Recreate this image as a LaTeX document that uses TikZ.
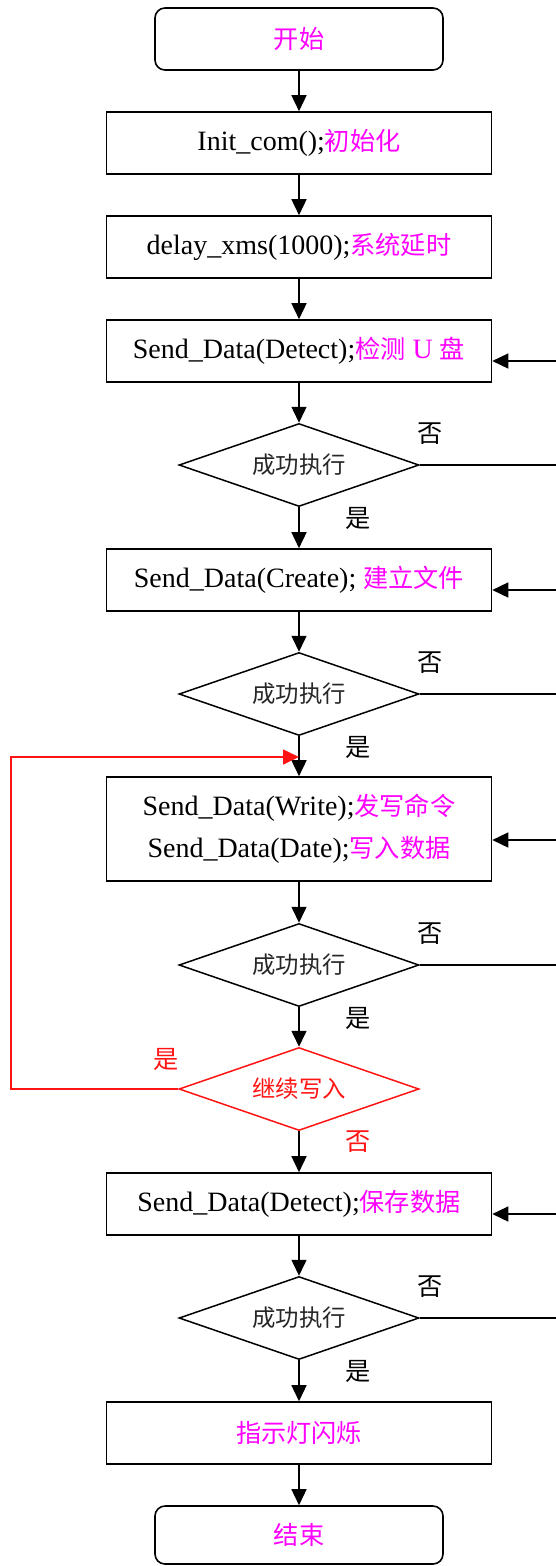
\documentclass[tikz,border=0pt]{standalone}
\usepackage{fontspec}
\usepackage{xcolor}
\usepackage{tikz}
\usetikzlibrary{shapes.geometric,arrows.meta}
\setmainfont{Liberation Serif}
\newfontfamily\cjk[Scale=0.9]{Noto Sans CJK SC}

\definecolor{hl}{RGB}{255,0,255}
\definecolor{loopred}{RGB}{255,20,20}
\newcommand{\zh}[1]{{\cjk\color{hl}#1}}

\begin{document}
\begin{tikzpicture}[x=1pt,y=-1pt,
    box/.style={draw, line width=1.6pt, minimum width=385pt, minimum height=62pt,
        inner sep=0pt, font=\fontsize{28}{33}\selectfont},
    term/.style={box, rounded corners=10pt, minimum width=288pt},
    test/.style={draw, diamond, aspect=2.9, line width=1.5pt, minimum width=240pt, minimum height=83pt,
        inner sep=0pt, font=\cjk\fontsize{26}{30}\selectfont, text=black!85},
    lab/.style={font=\cjk\fontsize{28}{32}\selectfont},
    arr/.style={line width=1.5pt, -{Triangle[length=16pt,width=15pt]}},
    wire/.style={line width=1.6pt}]
    \useasboundingbox (0,0) rectangle (555,1566);

    % Main column
    \node[term] (start) at (299,39) {\zh{开始}};
    \node[box] (init) at (299,143) {Init\_com();\zh{初始化}};
    \node[box] (delay) at (299,247) {delay\_xms(1000);\zh{系统延时}};
    \node[box] (detect) at (299,351) {Send\_Data(Detect);\zh{检测} {\color{hl}U} \zh{盘}};
    \node[test] (ok1) at (299,465) {成功执行};
    \node[box] (create) at (299,580) {Send\_Data(Create); \zh{建立文件}};
    \node[test] (ok2) at (299,694) {成功执行};
    \node[box, minimum height=104pt, align=center, font=\fontsize{28}{42}\selectfont] (write) at (299,829)
        {Send\_Data(Write);\zh{发写命令}\\Send\_Data(Date);\zh{写入数据}};
    \node[test] (ok3) at (299,965) {成功执行};
    \node[test, draw=loopred, text=loopred] (more) at (299,1089) {继续写入};
    \node[box] (save) at (299,1204) {Send\_Data(Detect);\zh{保存数据}};
    \node[test] (ok4) at (299,1318) {成功执行};
    \node[box] (led) at (299,1433) {\zh{指示灯闪烁}};
    \node[term, minimum height=58pt] (stop) at (299,1535) {\zh{结束}};

    % Downward flow
    \draw[arr] (start) -- (init);
    \draw[arr] (init) -- (delay);
    \draw[arr] (delay) -- (detect);
    \draw[arr] (detect) -- (ok1);
    \draw[arr] (ok1) -- (create);
    \draw[arr] (create) -- (ok2);
    \draw[arr] (ok2) -- (write);
    \draw[arr] (write) -- (ok3);
    \draw[arr] (ok3) -- (more);
    \draw[arr] (more) -- (save);
    \draw[arr] (save) -- (ok4);
    \draw[arr] (ok4) -- (led);
    \draw[arr] (led) -- (stop);

    % Retry lines on the right edge
    \foreach \t/\b/\y in {ok1/detect/361, ok2/create/590, ok3/write/840, ok4/save/1214} {
        \coordinate (\t-out) at (557,0 |- \t.east);
        \coordinate (\b-in) at (557,\y);
        \draw[wire] (\t.east) -- (\t-out);
        \draw[arr] (\b-in) -- (\b-in -| \b.east);
    }

    % Yes / no labels
    \foreach \t/\n/\y in {ok1/y1/465, ok2/y2/694, ok3/y3/965, ok4/y4/1318} {
        \node[lab] (\n-no) at (430,\y-31) {否};
        \node[lab] (\n-yes) at (358,\y+53) {是};
    }

    % Write-again loop
    \coordinate (back) at (11,757);
    \coordinate (join) at (299,757);
    \draw[wire, draw=loopred, -{Triangle[length=16pt,width=15pt]}] (more.west) -| (back) -- (join);
    \node[lab, text=loopred] (more-yes) at (166,1059) {是};
    \node[lab, text=loopred] (more-no) at (358,1142) {否};
\end{tikzpicture}
\end{document}
